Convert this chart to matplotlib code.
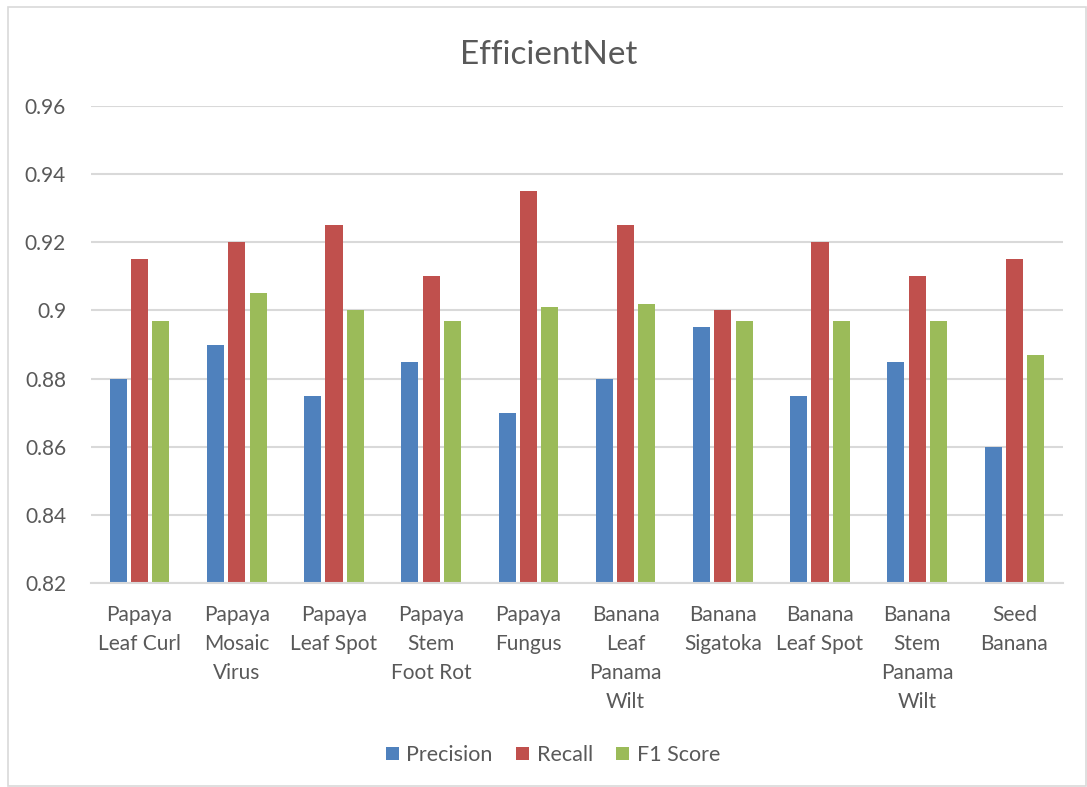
import numpy as np
import matplotlib.pyplot as plt
from matplotlib.patches import Rectangle

# class names, wrapped the way they appear under each group
categories = ["Papaya\nLeaf Curl", "Papaya\nMosaic\nVirus", "Papaya\nLeaf Spot",
              "Papaya\nStem\nFoot Rot", "Papaya\nFungus", "Banana\nLeaf\nPanama\nWilt",
              "Banana\nSigatoka", "Banana\nLeaf Spot", "Banana\nStem\nPanama\nWilt",
              "Seed\nBanana"]

precision = [0.880, 0.890, 0.875, 0.885, 0.870, 0.880, 0.895, 0.875, 0.885, 0.860]
recall = [0.915, 0.920, 0.925, 0.910, 0.935, 0.925, 0.900, 0.920, 0.910, 0.915]
f1_score = [0.897, 0.905, 0.900, 0.897, 0.901, 0.902, 0.897, 0.897, 0.897, 0.887]

y_ticks = [0.82, 0.84, 0.86, 0.88, 0.90, 0.92, 0.94, 0.96]
y_labels = ["0.82", "0.84", "0.86", "0.88", "0.9", "0.92", "0.94", "0.96"]

text_color = "#595959"
grid_color = "#d9d9d9"
plt.rcParams['font.family'] = ['Lato', 'DejaVu Sans']

fig = plt.figure(figsize=(10.87, 7.87), dpi=100)
ax = fig.add_axes([91 / 1087, 1 - 583 / 787, 972 / 1087, 477 / 787])

x = np.arange(len(categories))
w = 0.175
step = 0.22
ax.bar(x - step, precision, w, color="#4F81BD", label="Precision", zorder=3)
ax.bar(x, recall, w, color="#C0504D", label="Recall", zorder=3)
ax.bar(x + step, f1_score, w, color="#9BBB59", label="F1 Score", zorder=3)

ax.set_xlim(-0.5, len(categories) - 0.5)
ax.set_ylim(0.82, 0.96)
ax.set_yticks(y_ticks)
ax.set_yticklabels(y_labels)
ax.set_xticks(x)
ax.set_xticklabels(categories, linespacing=1.55, va="top")

ax.yaxis.grid(True, color=grid_color, linewidth=1.5, zorder=0)
for s in ['top', 'right', 'left']:
    ax.spines[s].set_visible(False)
ax.spines['bottom'].set_color(grid_color)
ax.spines['bottom'].set_linewidth(1.5)
ax.spines['bottom'].set_zorder(4)

ax.tick_params(axis='y', length=0, pad=18, labelsize=15, labelcolor=text_color)
ax.tick_params(axis='x', length=0, pad=16, labelsize=15, labelcolor=text_color)

fig.text(549 / 1087, 1 - 55 / 787, "EfficientNet", ha="center", va="center",
         fontsize=24, color=text_color)

leg = fig.legend(loc="center", bbox_to_anchor=(553 / 1087, 1 - 755 / 787), ncol=3,
                 frameon=False, fontsize=15.5, handlelength=0.6, handleheight=0.6,
                 handletextpad=0.35, columnspacing=1.1)
for t in leg.get_texts():
    t.set_color(text_color)

# outer chart border
fig.patches.append(Rectangle((8 / 1087, 1 / 787), 1078 / 1087, 779 / 787,
                             transform=fig.transFigure, fill=False,
                             edgecolor=grid_color, linewidth=1.2))

fig.savefig("out.png", dpi=100)
